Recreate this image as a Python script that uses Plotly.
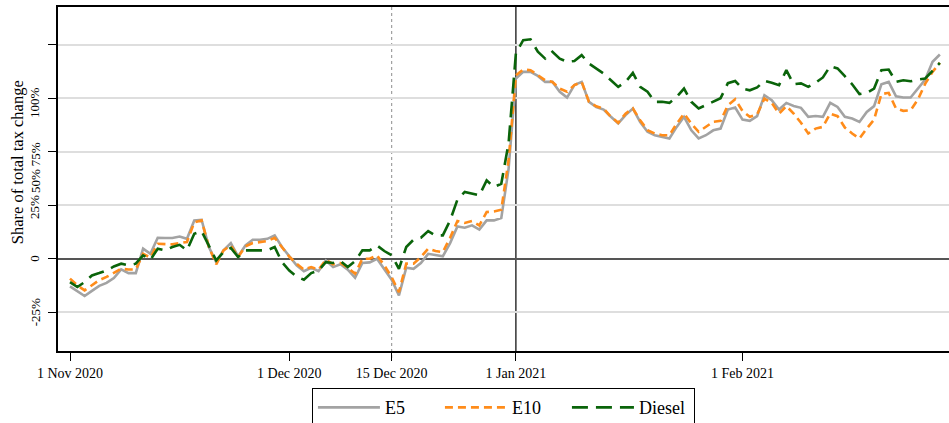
import pandas as pd
import plotly.graph_objects as go

dates = pd.date_range("2020-11-01", periods=120, freq="D")

e5 = [-12.9, -15, -17.4, -15, -12.7, -11.3, -9, -5, -6.7, -6.7,
      4.7, 2.3, 9.8, 9.7, 9.7, 10.4, 9.3, 17.9, 18.2, 5.5,
      -1.6, 3.9, 7.3, 1.1, 6.2, 8.9, 8.9, 9.3, 10.9, 5.5,
      1.0, -3.1, -5.8, -4.2, -5.8, -0.8, -3.9, -2.6, -5.1, -8.9,
      -2, -1.7, 0, -4.7, -9.8, -17.1, -4.2, -4.7, -2, 2.3,
      1.6, 1.1, 7.3, 15.1, 14.5, 15.6, 13.6, 17.9, 17.9, 19,
      42, 84.2, 87.3, 87.3, 85.4, 82.6, 82.6, 78, 75.3, 81.1,
      82.6, 73.3, 70.9, 69.7, 66.3, 63.2, 67.1, 70.2, 63.9, 59.3,
      57.7, 56.9, 56.2, 61.6, 66.3, 60, 56.2, 57.7, 60, 60.8,
      69.7, 70.6, 65, 64.4, 66.6, 76.4, 74.1, 69.7, 72.8, 71.4,
      70.5, 66.3, 66.7, 66.3, 72.8, 70.9, 66.3, 65.5, 63.9, 68.6,
      71.3, 81.5, 82.6, 75.9, 75.3, 75.3, 79.5, 83.7, 92, 95.4]

e10 = [-9.3, -12.4, -14.8, -12.4, -10, -8.5, -6.7, -4.7, -5, -5,
       2.3, 0.5, 7, 7, 6.7, 7.3, 7.8, 17, 17.9, 5.5,
       -2.6, 3.9, 6.2, 0.8, 5.8, 7.3, 7.8, 8.3, 9.8, 5.5,
       1.0, -2.3, -5.1, -3.9, -5.1, -0.5, -2.6, -2, -4.2, -7,
       0, 0, 1.6, -3.1, -8.6, -15.6, -2.3, -2.3, 0.8, 4.7,
       3.6, 3.1, 9.8, 17.6, 16.7, 17.6, 15.6, 21.8, 22.1, 22.9,
       46, 85.7, 88.4, 88.1, 85.7, 83.4, 82.6, 79.5, 78, 81.1,
       82.6, 73.3, 71.2, 70.2, 66.3, 63.5, 67.8, 70.2, 64.7, 60.1,
       58.5, 57.7, 57.7, 63.1, 67.8, 63.1, 59.3, 61.6, 64, 64.4,
       71.7, 74.5, 69, 66.3, 67.4, 74.8, 72.8, 67.8, 71.3, 67.8,
       63.5, 58.5, 60.8, 61.6, 67.8, 66.6, 61.3, 58.5, 56.2, 60.8,
       65, 76.9, 77.5, 70.2, 69.1, 69.4, 74.4, 81.8, 87.3, 91.5]

diesel = [-10.9, -13.2, -10.9, -7.8, -6.7, -5.5, -3.6, -2.3, -3.1, -2.3,
          1.6, -0.5, 4.7, 3.9, 5.5, 6.5, 3.9, 11.7, 12.9, 6.2,
          -0.8, 3.1, 5.1, 0.8, 3.9, 3.9, 3.9, 3.9, 5.5, -1.6,
          -5.5, -8.3, -9.8, -6.7, -5.5, -1.6, -2, -1.1, -3.9, -1.1,
          3.9, 3.9, 6.2, 3.6, 1.6, -4.7, 5.5, 8.9, 9.8, 12.9,
          10.9, 10.9, 17.9, 27.6, 31.2, 30.4, 29.6, 36.6, 33.5, 35,
          54, 96, 102.1, 102.5, 96.7, 93.5, 96.7, 93.5, 92, 92.4,
          95.1, 91.2, 88.9, 86.5, 83.4, 80.3, 82.6, 86.8, 80.3, 78,
          73.3, 73.3, 72.8, 75.6, 79.5, 73.3, 70.2, 71.7, 73.3, 75,
          82, 83, 79.5, 78.7, 80, 83.1, 82.2, 81.1, 88.1, 81.5,
          81.9, 80.3, 82.2, 84.7, 90, 88.9, 85.3, 81.5, 76.9, 77.5,
          79.5, 88.1, 88.4, 82.6, 83.4, 82.9, 83.7, 84.2, 87.8, 91.5]

x_tick_vals = ["2020-11-01", "2020-12-01", "2020-12-15", "2021-01-01", "2021-02-01"]
x_tick_text = ["1 Nov 2020", "1 Dec 2020", "15 Dec 2020", "1 Jan 2021", "1 Feb 2021"]
y_tick_vals = [-25, 0, 25, 50, 75, 100]
y_label_text = ["-25%", "0", "25%", "50%", "75%", "100%"]
y_label_pos = [-25, 0, 24.2, 36.3, 48.8, 72.8]

FONT = "Liberation Serif"

fig = go.Figure()
fig.add_trace(go.Scatter(x=dates, y=e5, mode="lines", name="E5",
                         line=dict(color="#a3a3a3", width=2.6)))
fig.add_trace(go.Scatter(x=dates, y=e10, mode="lines", name="E10",
                         line=dict(color="#ff8c1a", width=2.6, dash="8px,5px")))
fig.add_trace(go.Scatter(x=dates, y=diesel, mode="lines", name="Diesel",
                         line=dict(color="#0a640a", width=2.6, dash="16px,8px")))

# reference lines
fig.add_shape(type="line", xref="paper", x0=0, x1=1, yref="y", y0=100, y1=100,
              line=dict(color="#777777", width=1, dash="3px,2px"), layer="below")
fig.add_shape(type="line", xref="x", x0="2020-12-15", x1="2020-12-15", yref="paper", y0=-0.02, y1=1,
              line=dict(color="#a0a0a0", width=1.2, dash="3px,3px"), layer="below")
fig.add_shape(type="line", xref="x", x0="2021-01-01", x1="2021-01-01", yref="paper", y0=0, y1=1,
              line=dict(color="black", width=1.2), layer="below")

annotations = []
for txt, pos in zip(y_label_text, y_label_pos):
    annotations.append(dict(text=txt, xref="paper", yref="y", x=-0.0258, y=pos,
                            showarrow=False, textangle=-90, xanchor="center", yanchor="middle",
                            font=dict(family=FONT, size=13, color="black")))
annotations.append(dict(text="Share of total tax change", xref="paper", yref="paper",
                        x=-0.0455, y=0.55, showarrow=False, textangle=-90,
                        xanchor="center", yanchor="middle",
                        font=dict(family=FONT, size=16.5, color="black")))

fig.update_layout(
    width=949, height=423,
    margin=dict(l=58, r=0, t=7, b=72, autoexpand=False),
    paper_bgcolor="white", plot_bgcolor="white",
    font=dict(family=FONT, color="black"),
    annotations=annotations,
    showlegend=True,
    legend=dict(orientation="h", x=0.285, y=-0.108, xanchor="left", yanchor="top",
                bordercolor="black", borderwidth=1, bgcolor="white",
                itemwidth=62, entrywidth=50,
                font=dict(family=FONT, size=18, color="black")),
    xaxis=dict(type="date", range=["2020-10-30 08:36", "2021-03-01 06:00"],
               tickvals=x_tick_vals, ticktext=x_tick_text,
               ticks="outside", ticklen=8, tickwidth=1.2, tickcolor="black",
               showgrid=False, zeroline=False,
               showline=True, linecolor="black", linewidth=2, mirror=True,
               tickfont=dict(family=FONT, size=14, color="black")),
    yaxis=dict(range=[-43.1, 117.6], tickvals=y_tick_vals, showticklabels=False,
               ticks="outside", ticklen=8, tickwidth=1.2, tickcolor="black",
               showgrid=True, gridcolor="#dedede", gridwidth=1.5,
               zeroline=True, zerolinecolor="#555555", zerolinewidth=1.5,
               showline=True, linecolor="black", linewidth=2),
)

fig.write_html("out.html", config={"displayModeBar": False},
               post_script="document.body.style.margin='0';document.body.style.overflow='hidden';")
